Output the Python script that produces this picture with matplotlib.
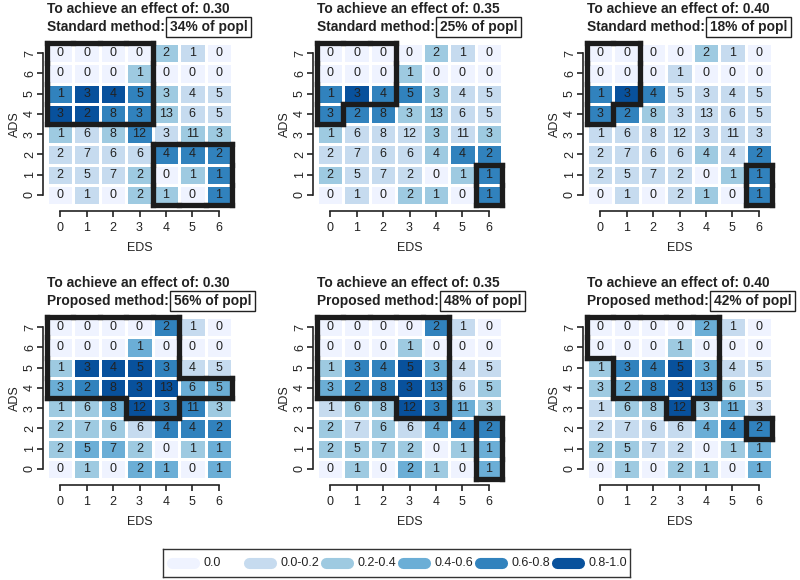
import matplotlib.pyplot as plt
import numpy as np
from matplotlib.collections import LineCollection
from matplotlib.colors import ListedColormap, BoundaryNorm

plt.rcParams['font.family'] = ['Liberation Sans', 'DejaVu Sans']

# --- data -----------------------------------------------------------------
eds_vals = [0, 1, 2, 3, 4, 5, 6]
ads_vals = [0, 1, 2, 3, 4, 5, 6, 7]

# counts per cell, rows ADS 7 (top) .. 0 (bottom), columns EDS 0..6
counts = [
    [0, 0, 0, 0, 2, 1, 0],
    [0, 0, 0, 1, 0, 0, 0],
    [1, 3, 4, 5, 3, 4, 5],
    [3, 2, 8, 3, 13, 6, 5],
    [1, 6, 8, 12, 3, 11, 3],
    [2, 7, 6, 6, 4, 4, 2],
    [2, 5, 7, 2, 0, 1, 1],
    [0, 1, 0, 2, 1, 0, 1],
]

legend_labels = ['0.0', '0.0-0.2', '0.2-0.4', '0.4-0.6', '0.6-0.8', '0.8-1.0']
palette = ['#EFF3FF', '#C6DBEF', '#9ECAE1', '#6BAED6', '#3182BD', '#08519C']

effects = ['0.30', '0.35', '0.40']
std_pct = ['34%', '25%', '18%']
prop_pct = ['56%', '48%', '42%']

# colour class (index into palette) per cell, same layout as counts
lvl_std_030 = [
    [0, 0, 0, 0, 2, 1, 0],
    [0, 0, 0, 2, 0, 0, 0],
    [4, 5, 5, 4, 2, 1, 1],
    [5, 5, 4, 4, 2, 1, 1],
    [2, 1, 2, 4, 1, 2, 2],
    [1, 1, 1, 1, 4, 4, 4],
    [1, 1, 1, 2, 0, 2, 4],
    [0, 1, 0, 2, 2, 0, 4],
]
lvl_std_035 = [
    [0, 0, 0, 0, 2, 1, 0],
    [0, 0, 0, 2, 0, 0, 0],
    [4, 5, 4, 4, 2, 1, 1],
    [4, 4, 4, 2, 2, 1, 1],
    [2, 1, 1, 1, 2, 1, 2],
    [1, 1, 1, 1, 2, 4, 4],
    [2, 1, 1, 1, 0, 2, 4],
    [0, 1, 0, 2, 2, 0, 4],
]
lvl_std_040 = [
    [0, 0, 0, 0, 2, 1, 0],
    [0, 0, 0, 1, 0, 0, 0],
    [4, 5, 4, 1, 1, 1, 1],
    [4, 4, 2, 1, 1, 1, 1],
    [1, 1, 1, 1, 1, 1, 1],
    [1, 1, 1, 1, 2, 1, 4],
    [1, 1, 1, 1, 0, 2, 4],
    [0, 1, 0, 1, 2, 0, 4],
]
lvl_prop_030 = [
    [0, 0, 0, 0, 4, 1, 0],
    [0, 0, 0, 3, 0, 0, 0],
    [2, 5, 5, 5, 4, 1, 1],
    [3, 4, 5, 5, 5, 3, 3],
    [2, 2, 3, 5, 4, 4, 2],
    [2, 2, 2, 1, 4, 4, 4],
    [2, 3, 3, 2, 0, 2, 3],
    [0, 2, 0, 3, 3, 0, 3],
]
lvl_prop_035 = [
    [0, 0, 0, 0, 4, 1, 0],
    [0, 0, 0, 2, 0, 0, 0],
    [2, 4, 4, 5, 3, 1, 1],
    [3, 4, 4, 5, 4, 1, 2],
    [1, 2, 2, 5, 4, 3, 2],
    [2, 1, 2, 1, 3, 4, 4],
    [2, 2, 2, 2, 0, 2, 3],
    [0, 2, 0, 3, 2, 0, 3],
]
lvl_prop_040 = [
    [0, 0, 0, 0, 3, 1, 0],
    [0, 0, 0, 2, 0, 0, 0],
    [2, 4, 4, 5, 3, 1, 1],
    [2, 3, 4, 5, 4, 2, 1],
    [1, 2, 2, 5, 2, 3, 1],
    [1, 1, 1, 1, 3, 4, 4],
    [2, 2, 1, 1, 0, 2, 3],
    [0, 2, 0, 2, 2, 0, 3],
]

# selected subgroups (outlined), same layout as counts
sel_std_030 = [
    [1, 1, 1, 1, 0, 0, 0],
    [1, 1, 1, 1, 0, 0, 0],
    [1, 1, 1, 1, 0, 0, 0],
    [1, 1, 1, 1, 0, 0, 0],
    [0, 0, 0, 0, 0, 0, 0],
    [0, 0, 0, 0, 1, 1, 1],
    [0, 0, 0, 0, 1, 1, 1],
    [0, 0, 0, 0, 1, 1, 1],
]
sel_std_035 = [
    [1, 1, 1, 0, 0, 0, 0],
    [1, 1, 1, 0, 0, 0, 0],
    [1, 1, 1, 0, 0, 0, 0],
    [1, 0, 0, 0, 0, 0, 0],
    [0, 0, 0, 0, 0, 0, 0],
    [0, 0, 0, 0, 0, 0, 0],
    [0, 0, 0, 0, 0, 0, 1],
    [0, 0, 0, 0, 0, 0, 1],
]
sel_std_040 = [
    [1, 1, 0, 0, 0, 0, 0],
    [1, 1, 0, 0, 0, 0, 0],
    [1, 1, 0, 0, 0, 0, 0],
    [1, 0, 0, 0, 0, 0, 0],
    [0, 0, 0, 0, 0, 0, 0],
    [0, 0, 0, 0, 0, 0, 0],
    [0, 0, 0, 0, 0, 0, 1],
    [0, 0, 0, 0, 0, 0, 1],
]
sel_prop_030 = [
    [1, 1, 1, 1, 1, 0, 0],
    [1, 1, 1, 1, 1, 0, 0],
    [1, 1, 1, 1, 1, 0, 0],
    [1, 1, 1, 1, 1, 1, 1],
    [0, 0, 0, 1, 1, 0, 0],
    [0, 0, 0, 0, 0, 0, 0],
    [0, 0, 0, 0, 0, 0, 0],
    [0, 0, 0, 0, 0, 0, 0],
]
sel_prop_035 = [
    [1, 1, 1, 1, 1, 0, 0],
    [1, 1, 1, 1, 1, 0, 0],
    [1, 1, 1, 1, 1, 0, 0],
    [1, 1, 1, 1, 1, 0, 0],
    [0, 0, 0, 1, 1, 0, 0],
    [0, 0, 0, 0, 0, 0, 1],
    [0, 0, 0, 0, 0, 0, 1],
    [0, 0, 0, 0, 0, 0, 1],
]
sel_prop_040 = [
    [1, 1, 1, 1, 1, 0, 0],
    [1, 1, 1, 1, 1, 0, 0],
    [0, 1, 1, 1, 1, 0, 0],
    [0, 1, 1, 1, 1, 0, 0],
    [0, 0, 0, 1, 0, 0, 0],
    [0, 0, 0, 0, 0, 0, 1],
    [0, 0, 0, 0, 0, 0, 0],
    [0, 0, 0, 0, 0, 0, 0],
]

panels = [
    ('Standard', effects[0], std_pct[0], lvl_std_030, sel_std_030),
    ('Standard', effects[1], std_pct[1], lvl_std_035, sel_std_035),
    ('Standard', effects[2], std_pct[2], lvl_std_040, sel_std_040),
    ('Proposed', effects[0], prop_pct[0], lvl_prop_030, sel_prop_030),
    ('Proposed', effects[1], prop_pct[1], lvl_prop_035, sel_prop_035),
    ('Proposed', effects[2], prop_pct[2], lvl_prop_040, sel_prop_040),
]

# --- drawing --------------------------------------------------------------
W, H = 800, 580
fig = plt.figure(figsize=(W / 100, H / 100), dpi=100)

cmap = ListedColormap(palette)
norm = BoundaryNorm(np.arange(-0.5, len(palette)), cmap.N)
dark = '#222222'


def outline(ax, mask):
    m = np.array(mask)[::-1]      # row index -> ADS value
    ny, nx = m.shape
    segs = []
    for y in range(ny):
        for x in range(nx):
            if not m[y, x]:
                continue
            if y + 1 >= ny or not m[y + 1, x]:
                segs.append([(x - .5, y + .5), (x + .5, y + .5)])
            if y - 1 < 0 or not m[y - 1, x]:
                segs.append([(x - .5, y - .5), (x + .5, y - .5)])
            if x - 1 < 0 or not m[y, x - 1]:
                segs.append([(x - .5, y - .5), (x - .5, y + .5)])
            if x + 1 >= nx or not m[y, x + 1]:
                segs.append([(x + .5, y - .5), (x + .5, y + .5)])
    lc = LineCollection(segs, colors='#1c1c1c', linewidths=3.8,
                        capstyle='projecting', clip_on=False, zorder=5)
    ax.add_collection(lc)


lefts = [47, 317, 587]
tops = [43, 317]
pw, ph = 185, 162

for i, (method, eff, pct, lvl, sel) in enumerate(panels):
    r, c = divmod(i, 3)
    ax = fig.add_axes([lefts[c] / W, (H - tops[r] - ph) / H, pw / W, ph / H])
    lv = np.array(lvl)[::-1]
    cn = np.array(counts)[::-1]
    xe = np.arange(len(eds_vals) + 1) - 0.5
    ye = np.arange(len(ads_vals) + 1) - 0.5
    ax.pcolormesh(xe, ye, lv, cmap=cmap, norm=norm,
                  edgecolor='white', linewidth=1.0)
    for yi in range(len(ads_vals)):
        for xi in range(len(eds_vals)):
            ax.text(eds_vals[xi], ads_vals[yi], str(cn[yi, xi]),
                    ha='center', va='center', fontsize=9, color=dark)
    outline(ax, sel)

    ax.set_xlim(-0.5, 6.5)
    ax.set_ylim(-0.5, 7.5)
    for s in ['top', 'right']:
        ax.spines[s].set_visible(False)
    ax.spines['left'].set_position(('outward', 3))
    ax.spines['bottom'].set_position(('outward', 4))
    ax.spines['left'].set_bounds(0, 7)
    ax.spines['bottom'].set_bounds(0, 6)
    for s in ['left', 'bottom']:
        ax.spines[s].set_linewidth(1.2)
        ax.spines[s].set_color(dark)
    ax.set_xticks(eds_vals)
    ax.set_yticks(ads_vals)
    ax.tick_params(length=4, width=1.2, color=dark, labelcolor=dark,
                   labelsize=9, pad=4)
    ax.tick_params(axis='y', labelrotation=90, pad=1)
    for t in ax.get_yticklabels():
        t.set_va('center')
    ax.set_xlabel('EDS', fontsize=9, color=dark, labelpad=6)
    ax.set_ylabel('ADS', fontsize=9, color=dark, labelpad=2)

    ax.annotate('To achieve an effect of: ' + eff, xy=(0, 1),
                xycoords='axes fraction', xytext=(0, 34),
                textcoords='offset pixels', ha='left', va='center',
                fontsize=9.9, fontweight='bold', color=dark)
    t2 = ax.annotate(method + ' method:', xy=(0, 1),
                     xycoords='axes fraction', xytext=(0, 16),
                     textcoords='offset pixels', ha='left', va='center',
                     fontsize=9.9, fontweight='bold', color=dark)
    ax.annotate(pct + ' of popl', xy=(1, 0.5), xycoords=t2,
                xytext=(5, 0), textcoords='offset pixels',
                ha='left', va='center', fontsize=9.9, fontweight='bold',
                color=dark,
                bbox=dict(boxstyle='square,pad=0.25', fc='white',
                          ec=dark, lw=1.0))

# legend
lax = fig.add_axes([163 / W, 3 / H, 467 / W, 28 / H])
lax.set_xlim(-20 / 77, 447 / 77)
lax.set_ylim(0, 1)
lax.set_xticks([])
lax.set_yticks([])
for s in lax.spines.values():
    s.set_linewidth(1.0)
    s.set_color('#333333')
for k, (lab, col) in enumerate(zip(legend_labels, palette)):
    lax.plot([k - 0.14, k + 0.14], [0.5, 0.5], color=col, lw=8,
             solid_capstyle='round')
    lax.text(k + 0.27, 0.5, lab, ha='left', va='center',
             fontsize=9, color=dark)

fig.savefig('out.png', dpi=100)
